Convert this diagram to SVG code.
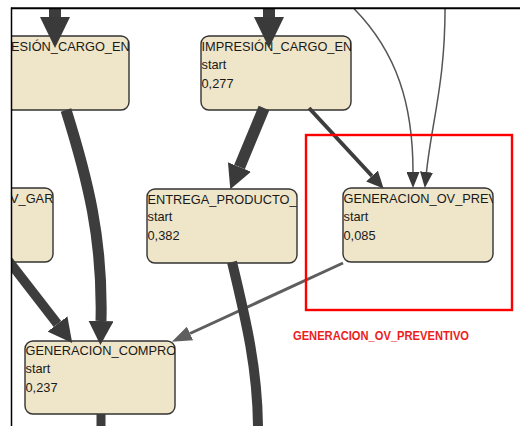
<svg xmlns="http://www.w3.org/2000/svg" width="520" height="426" viewBox="0 0 520 426">
<style>
.node rect{fill:#efe5c8;stroke:#333333;stroke-width:1.4}
.node text{font-family:"Liberation Sans",Arial,sans-serif;font-size:12.8px;fill:#1a1a1a}
.e{fill:none;stroke-linecap:butt}
.thick{stroke:#3d3d3d}
.thin{stroke:#555555;stroke-width:1.5}
.lbl{font-family:"Liberation Sans",Arial,sans-serif;font-size:12px;font-weight:bold;fill:#ee1c1c}
</style>
<defs>
<clipPath id="frame"><rect x="12" y="9" width="508" height="417"/></clipPath>
<clipPath id="c1"><rect x="-21" y="36" width="150" height="74"/></clipPath>
<clipPath id="c2"><rect x="201" y="36" width="150" height="74"/></clipPath>
<clipPath id="c3"><rect x="-97" y="188" width="150" height="74"/></clipPath>
<clipPath id="c4"><rect x="147" y="189" width="150" height="74"/></clipPath>
<clipPath id="c5"><rect x="343" y="188" width="150" height="74"/></clipPath>
<clipPath id="c6"><rect x="25" y="341" width="150" height="73"/></clipPath>
<marker id="mBig" markerUnits="userSpaceOnUse" markerWidth="31" markerHeight="30" viewBox="0 0 31 30" refX="0" refY="15" orient="auto"><path d="M0,0L31,15L0,30z" fill="#3a3a3a"/></marker>
<marker id="mMid" markerUnits="userSpaceOnUse" markerWidth="24" markerHeight="25" viewBox="0 0 24 25" refX="0" refY="12.5" orient="auto"><path d="M0,0L24,12.5L0,25z" fill="#3a3a3a"/></marker>
<marker id="mSm" markerUnits="userSpaceOnUse" markerWidth="17" markerHeight="16" viewBox="0 0 17 16" refX="0" refY="8" orient="auto"><path d="M0,0L17,8L0,16z" fill="#3a3a3a"/></marker>
<marker id="mThin" markerUnits="userSpaceOnUse" markerWidth="16" markerHeight="13" viewBox="0 0 16 13" refX="0" refY="6.5" orient="auto"><path d="M0,0L16,6.5L0,13z" fill="#3a3a3a"/></marker>
<marker id="mGray" markerUnits="userSpaceOnUse" markerWidth="20" markerHeight="15" viewBox="0 0 20 15" refX="0" refY="7.5" orient="auto"><path d="M0,0L20,7.5L0,15z" fill="#5e5e5e"/></marker>
</defs>
<rect x="0" y="0" width="520" height="426" fill="#ffffff"/>
<g clip-path="url(#frame)">
<g id="node-impresion-cargo-1" class="node"><rect x="-21" y="36" width="150" height="74" rx="8"/><g clip-path="url(#c1)"><text x="11" y="51">ESIÓN_CARGO_EN</text></g></g>
<g id="node-impresion-cargo-2" class="node"><rect x="201" y="36" width="150" height="74" rx="8"/><g clip-path="url(#c2)"><text x="201.5" y="51">IMPRESIÓN_CARGO_EN</text><text x="201.5" y="69">start</text><text x="201.5" y="87.5">0,277</text></g></g>
<g id="node-ov-garantia" class="node"><rect x="-97" y="188" width="150" height="74" rx="8"/><g clip-path="url(#c3)"><text x="10" y="203">V_GARA</text></g></g>
<g id="node-entrega-producto" class="node"><rect x="147" y="189" width="150" height="74" rx="8"/><g clip-path="url(#c4)"><text x="147.5" y="203.5">ENTREGA_PRODUCTO_</text><text x="147.5" y="221">start</text><text x="147.5" y="239.5">0,382</text></g></g>
<g id="node-generacion-ov-preventivo" class="node"><rect x="343" y="188" width="150" height="74" rx="8"/><g clip-path="url(#c5)"><text x="343.5" y="203.3">GENERACION_OV_PREV</text><text x="343.5" y="221">start</text><text x="343.5" y="239.8">0,085</text></g></g>
<g id="node-generacion-compro" class="node"><rect x="25" y="341" width="150" height="73" rx="8"/><g clip-path="url(#c6)"><text x="25.5" y="355.3">GENERACION_COMPRO</text><text x="25.5" y="372.8">start</text><text x="25.5" y="391.5">0,237</text></g></g>
<g id="connectors">
<path class="e thick" d="M55,0L55,17" stroke-width="12" marker-end="url(#mBig)"/>
<path class="e thick" d="M269,0L269,17" stroke-width="12" marker-end="url(#mBig)"/>
<path class="e thick" d="M66,110C88,180 103,240 101,321" stroke-width="11" marker-end="url(#mMid)"/>
<path class="e thick" d="M4,255L57.5,324" stroke-width="9.5" marker-end="url(#mMid)"/>
<path class="e thick" d="M264,108L239.5,167" stroke-width="11.5" marker-end="url(#mMid)"/>
<path class="e thick" d="M309,108L372,176" stroke-width="4" marker-end="url(#mSm)"/>
<path class="e thin" d="M345,0C400,50 413,110 413,172" marker-end="url(#mThin)"/>
<path class="e thin" d="M445,0C446,80 432,120 426.5,172" marker-end="url(#mThin)"/>
<path class="e" d="M343,263L190,333.5" stroke="#5e5e5e" stroke-width="3" marker-end="url(#mGray)"/>
<path class="e thick" d="M232,262C246,320 258,370 258,430" stroke-width="10"/>
<path class="e thick" d="M101,414L101,430" stroke-width="9"/>
</g>
</g>
<g id="frame-lines">
<line x1="11.5" y1="7.5" x2="11.5" y2="426" stroke="#000000" stroke-width="1.5"/>
<line x1="11" y1="8.3" x2="520" y2="8.3" stroke="#000000" stroke-width="2"/>
</g>
<g id="highlight">
<rect x="306" y="135" width="206" height="175" fill="none" stroke="#ff0000" stroke-width="2.4"/>
<text class="lbl" x="381" y="340" text-anchor="middle" textLength="176" lengthAdjust="spacingAndGlyphs">GENERACION_OV_PREVENTIVO</text>
</g>
</svg>
